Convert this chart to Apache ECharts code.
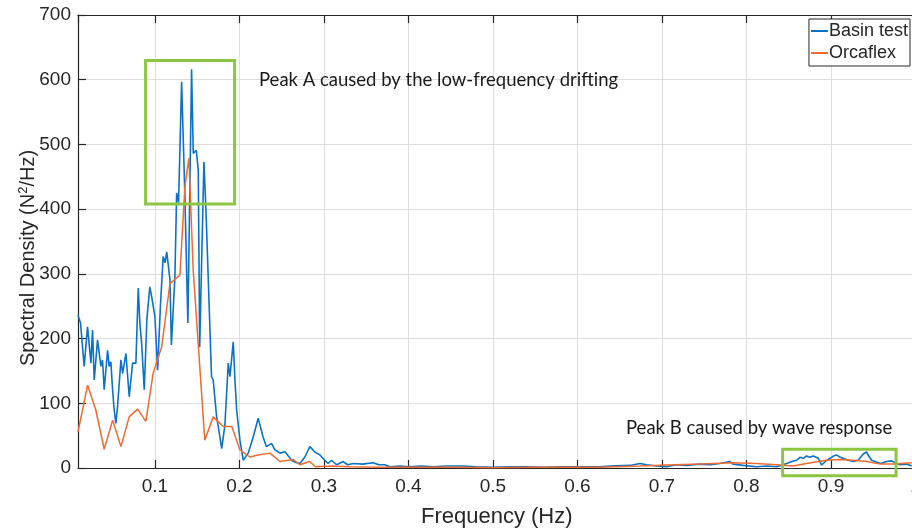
<!DOCTYPE html>
<html>
<head>
<meta charset="utf-8">
<script src="https://cdn.jsdelivr.net/npm/echarts@6/dist/echarts.min.js"></script>
<style>
  html, body { margin: 0; padding: 0; background: #fff; }
  #chart { width: 912px; height: 530px; }
</style>
</head>
<body>
<div id="chart"></div>
<script>
// Mooring line tension spectra: basin measurement vs. OrcaFlex simulation
const basinFreq = [
  0.009, 0.012, 0.0163, 0.0203, 0.0243, 0.0262, 0.0282, 0.0321, 0.0361, 0.038,
  0.040, 0.044, 0.0459, 0.0479, 0.0499, 0.0518, 0.0538, 0.0558, 0.0598, 0.0618,
  0.0657, 0.0696, 0.0736, 0.0775, 0.0803, 0.0822, 0.0842, 0.0874, 0.0905, 0.094,
  0.0965, 0.100, 0.1032, 0.1065, 0.1098, 0.112, 0.114, 0.1178, 0.1195, 0.1237,
  0.1257, 0.128, 0.1316, 0.1355, 0.139, 0.1434, 0.1454, 0.149, 0.1513, 0.153,
  0.158, 0.1604, 0.167, 0.169, 0.173, 0.175, 0.179, 0.1828, 0.1868, 0.1888,
  0.1927, 0.1947, 0.1967, 0.2006, 0.2045, 0.2104, 0.2163, 0.2222, 0.228, 0.232,
  0.238, 0.242, 0.248, 0.254, 0.2618, 0.266, 0.2716, 0.2775, 0.2834, 0.289,
  0.2953, 0.301, 0.305, 0.309, 0.315, 0.3228, 0.328, 0.3347, 0.346, 0.358,
  0.365, 0.372, 0.378, 0.39, 0.40, 0.415, 0.43, 0.445, 0.465, 0.48,
  0.50, 0.52, 0.54, 0.56, 0.58, 0.60, 0.6266, 0.6385, 0.662, 0.674,
  0.6819, 0.6937, 0.7056, 0.717, 0.729, 0.745, 0.757, 0.7686, 0.7805, 0.784,
  0.796, 0.812, 0.824, 0.8357, 0.8476, 0.8535, 0.8594, 0.8633, 0.8672, 0.871,
  0.875, 0.879, 0.885, 0.889, 0.895, 0.899, 0.903, 0.907, 0.911, 0.9166,
  0.9206, 0.9264, 0.9323, 0.9382, 0.9422, 0.944, 0.948, 0.952, 0.9586, 0.966,
  0.9718, 0.976, 0.9817, 0.9896, 0.9955
];
const basinDensity = [
  236, 224, 157, 218, 162, 213, 136, 198, 157, 167,
  121, 182, 157, 164, 121, 90, 69, 95, 167, 146,
  177, 110, 162, 162, 278, 224, 195, 121, 230, 280,
  262, 234, 151, 250, 327, 317, 334, 291, 190, 296,
  425, 410, 597, 419, 224, 616, 486, 491, 460, 187,
  473, 399, 141, 136, 79, 64, 30, 66, 162, 141,
  195, 136, 90, 43, 12, 23, 48, 77, 48, 33,
  38, 28, 23, 25, 12, 9, 7, 17, 33, 25,
  20, 12, 7, 12, 5, 10, 5, 7, 6, 8,
  5, 5, 2, 3, 2, 3, 2, 3, 3, 2,
  1, 2, 2, 1, 2, 2, 2, 3, 4, 7,
  5, 3, 2, 5, 4, 6, 5, 7, 10, 6,
  4, 2, 3, 2, 7, 10, 12, 16.5, 15, 18.5,
  16.5, 18.5, 15, 4.6, 12, 15, 18.5, 20, 16.5, 14,
  12, 10, 12, 21.6, 25, 20, 12, 10, 7, 10,
  11, 8, 5, 6, 3
];

const orcaFreq = [
  0.009, 0.0204, 0.030, 0.040, 0.050, 0.0598, 0.0696, 0.0795, 0.0893, 0.098,
  0.108, 0.1178, 0.1296, 0.1355, 0.1402, 0.1453, 0.159, 0.169, 0.181, 0.191,
  0.2006, 0.2124, 0.222, 0.236, 0.248, 0.2637, 0.2716, 0.283, 0.29, 0.31,
  0.33, 0.36, 0.40, 0.45, 0.50, 0.55, 0.60, 0.627, 0.674, 0.706,
  0.745, 0.784, 0.812, 0.836, 0.855, 0.871, 0.895, 0.911, 0.926, 0.942,
  0.9586, 0.974, 0.9955
];
const orcaDensity = [
  56, 128, 90, 29, 74, 33, 79, 91, 72, 147,
  187, 285, 298, 435, 479, 306, 43, 79, 64, 64,
  28, 17, 20, 23, 10, 13, 5, 10, 2, 3,
  2, 1, 1, 1, 0.5, 1, 1, 1, 3, 4.6,
  6, 8, 7, 5, 3, 7, 12, 13, 12, 10,
  6, 6, 8
];

// Highlighted regions: [freq from, freq to, density from, density to]
const peakBoxes = [
  [0.089, 0.1943, 408, 629.5],
  [0.8428, 0.977, -11.9, 28.9]
];
const peakNotes = [
  'Peak A caused by the low-frequency drifting',
  'Peak B caused by wave response'
];

const seriesNames = ['Basin test', 'Orcaflex'];
const pairs = (xs, ys) => xs.map((x, i) => [x, ys[i]]);

const axisColor = '#262626';
const tickFont = { fontFamily: 'Liberation Sans', fontSize: 19, color: axisColor };

const chart = echarts.init(document.getElementById('chart'), null, { renderer: 'canvas' });

chart.setOption({
  animation: false,
  backgroundColor: '#ffffff',
  grid: { left: 78, right: -3.5, top: 15, bottom: 62, containLabel: false, outerBoundsMode: 'none' },
  legend: {
    data: seriesNames,
    orient: 'vertical',
    right: 2,
    top: 19,
    padding: [3, 2, 4, 2],
    itemGap: 4,
    itemWidth: 17,
    itemHeight: 2,
    icon: 'rect',
    backgroundColor: '#ffffff',
    borderColor: axisColor,
    borderWidth: 1,
    borderRadius: 0,
    textStyle: { fontFamily: 'Liberation Sans', fontSize: 18, color: axisColor, padding: [0, 0, 0, -4] }
  },
  xAxis: [
    {
      type: 'value',
      min: 0.009,
      max: 1.0,
      splitNumber: 10,
      name: 'Frequency (Hz)',
      nameLocation: 'middle',
      nameGap: 38,
      nameTextStyle: { fontFamily: 'Liberation Sans', fontSize: 22, color: axisColor },
      axisLine: { show: true, onZero: false, lineStyle: { color: axisColor, width: 1.2 } },
      axisTick: { show: true, inside: true, length: 8, lineStyle: { color: axisColor, width: 1.2 } },
      axisLabel: Object.assign({}, tickFont, {
        margin: 9,
        showMinLabel: false,
        formatter: v => {
          const t = Math.round(v * 10);
          if (Math.abs(v * 10 - t) > 1e-6) return '';
          return t === 10 ? '1' : (t / 10).toFixed(1);
        }
      }),
      splitLine: { show: true, lineStyle: { color: '#dedede', width: 1 } }
    },
    {
      type: 'value',
      position: 'top',
      min: 0.009,
      max: 1.0,
      splitNumber: 10,
      axisLine: { show: true, onZero: false, lineStyle: { color: axisColor, width: 1.2 } },
      axisTick: { show: true, inside: true, length: 8, lineStyle: { color: axisColor, width: 1.2 } },
      axisLabel: { show: false },
      splitLine: { show: false }
    }
  ],
  yAxis: {
    type: 'value',
    min: 0,
    max: 700,
    interval: 100,
    axisLine: { show: true, lineStyle: { color: axisColor, width: 1.2 } },
    axisTick: { show: true, inside: true, length: 8, lineStyle: { color: axisColor, width: 1.2 } },
    axisLabel: Object.assign({}, tickFont, { margin: 7 }),
    splitLine: { show: true, lineStyle: { color: '#dedede', width: 1 } }
  },
  series: [
    {
      name: seriesNames[0],
      type: 'line',
      data: pairs(basinFreq, basinDensity),
      showSymbol: false,
      color: '#0B72C4',
      lineStyle: { width: 1.6, color: '#0B72C4' },
      z: 3
    },
    {
      name: seriesNames[1],
      type: 'line',
      data: pairs(orcaFreq, orcaDensity),
      showSymbol: false,
      color: '#EE6A2F',
      lineStyle: { width: 1.5, color: '#EE6A2F' },
      z: 4
    },
    {
      type: 'custom',
      clip: false,
      z: 5,
      silent: true,
      data: peakBoxes,
      renderItem: (params, api) => {
        const p0 = api.coord([api.value(0), api.value(3)]);
        const p1 = api.coord([api.value(1), api.value(2)]);
        return {
          type: 'rect',
          shape: { x: p0[0], y: p0[1], width: p1[0] - p0[0], height: p1[1] - p0[1] },
          style: { fill: null, stroke: '#8CC540', lineWidth: 3 }
        };
      }
    }
  ],
  graphic: [
    {
      // y-axis title, rotated, with a superscript exponent
      type: 'text', x: 28, y: 258, rotation: Math.PI / 2, z: 10,
      style: {
        text: 'Spectral Density (N{sup|2}/Hz)',
        font: '20px "Liberation Sans"', fill: axisColor,
        align: 'center', verticalAlign: 'middle',
        rich: { sup: { font: '13px "Liberation Sans"', fill: axisColor, padding: [0, 0, 9, 0] } }
      }
    },
    {
      type: 'text', left: 259, top: 71, z: 10,
      style: { text: peakNotes[0], font: '18.5px Lato', fill: '#1a1a1a' }
    },
    {
      type: 'text', left: 626, top: 419, z: 10,
      style: { text: peakNotes[1], font: '18.5px Lato', fill: '#1a1a1a' }
    }
  ]
});
</script>
</body>
</html>
